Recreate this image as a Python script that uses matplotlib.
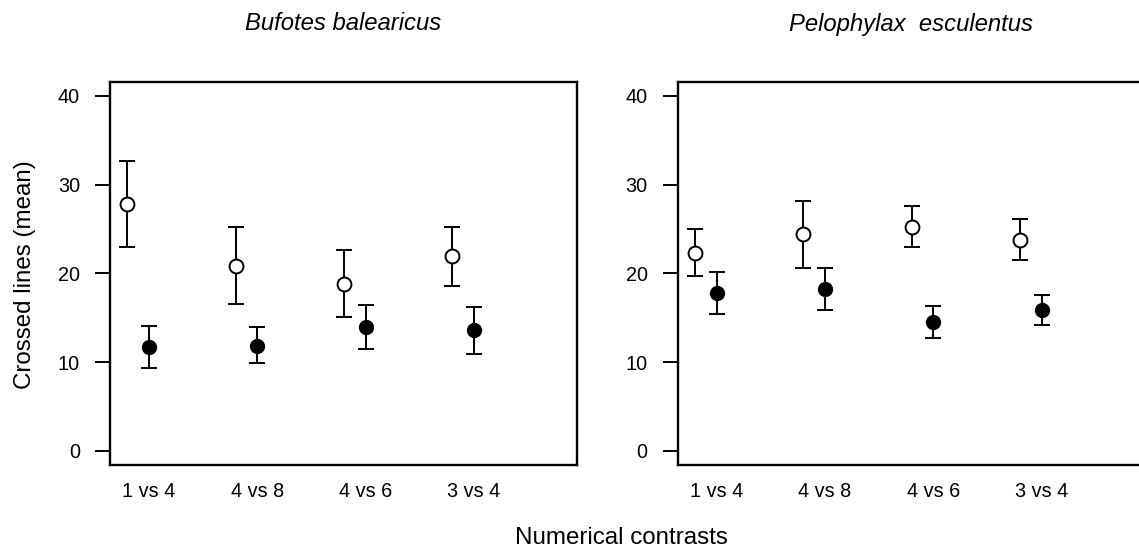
import numpy as np
import matplotlib
matplotlib.use("Agg")
import matplotlib.pyplot as plt

plt.rcParams['font.family'] = ['Liberation Sans', 'DejaVu Sans']

contrasts = ["1 vs 4", "4 vs 8", "4 vs 6", "3 vs 4"]

# Bufotes balearicus
bufo_open_mean = [27.8, 20.8, 18.8, 21.9]
bufo_open_low = [23.0, 16.5, 15.05, 18.6]
bufo_open_high = [32.65, 25.2, 22.6, 25.25]
bufo_fill_mean = [11.7, 11.85, 13.9, 13.6]
bufo_fill_low = [9.3, 9.85, 11.45, 10.9]
bufo_fill_high = [14.1, 13.9, 16.45, 16.25]

# Pelophylax esculentus
pelo_open_mean = [22.3, 24.4, 25.25, 23.8]
pelo_open_low = [19.65, 20.65, 22.95, 21.45]
pelo_open_high = [24.95, 28.15, 27.55, 26.1]
pelo_fill_mean = [17.8, 18.2, 14.5, 15.9]
pelo_fill_low = [15.45, 15.85, 12.75, 14.2]
pelo_fill_high = [20.2, 20.6, 16.35, 17.6]

W, H = 1139, 552
fig = plt.figure(figsize=(W / 100, H / 100), dpi=100)


def panel(rect, om, ol, oh, fm, fl, fh, title):
    ax = fig.add_axes(rect)
    x = np.arange(1, len(contrasts) + 1)
    om, ol, oh = map(np.array, (om, ol, oh))
    fm, fl, fh = map(np.array, (fm, fl, fh))
    ax.errorbar(x - 0.2, om, yerr=[om - ol, oh - om], fmt='o', color='black',
                mfc='white', mec='black', mew=1.4, ms=10, elinewidth=1.4,
                capsize=5.6, capthick=1.4, zorder=3)
    ax.errorbar(x, fm, yerr=[fm - fl, fh - fm], fmt='o', color='black',
                mfc='black', mec='black', ms=10, elinewidth=1.4,
                capsize=5.6, capthick=1.4, zorder=3)
    ax.set_xlim(0.64, 4.95)
    ax.set_ylim(-1.6, 41.6)
    ax.set_xticks(x)
    ax.set_xticklabels(contrasts, fontsize=14.3)
    ax.set_yticks([0, 10, 20, 30, 40])
    ax.tick_params(axis='y', length=10.8, width=1.4, pad=10.8, labelsize=14.3)
    ax.tick_params(axis='x', length=0, pad=12)
    for s in ax.spines.values():
        s.set_linewidth(1.7)
    # title centred over the box
    cx = rect[0] + rect[2] / 2
    fig.text(cx, 1 - 24 / H, title, ha='center', va='center',
             fontsize=17.2, style='italic')
    return ax


panel([110 / W, 1 - 465 / H, 467 / W, 383.3 / H],
      bufo_open_mean, bufo_open_low, bufo_open_high,
      bufo_fill_mean, bufo_fill_low, bufo_fill_high, "Bufotes balearicus")
panel([677.7 / W, 1 - 465 / H, 467 / W, 383.3 / H],
      pelo_open_mean, pelo_open_low, pelo_open_high,
      pelo_fill_mean, pelo_fill_low, pelo_fill_high, "Pelophylax  esculentus")

fig.text(25 / W, 1 - 275 / H, "Crossed lines (mean)", rotation=90,
         ha='center', va='center', fontsize=17.4)
fig.text(621 / W, 1 - 538 / H, "Numerical contrasts", ha='center',
         va='center', fontsize=17.4)

fig.savefig("out.png", dpi=100)
